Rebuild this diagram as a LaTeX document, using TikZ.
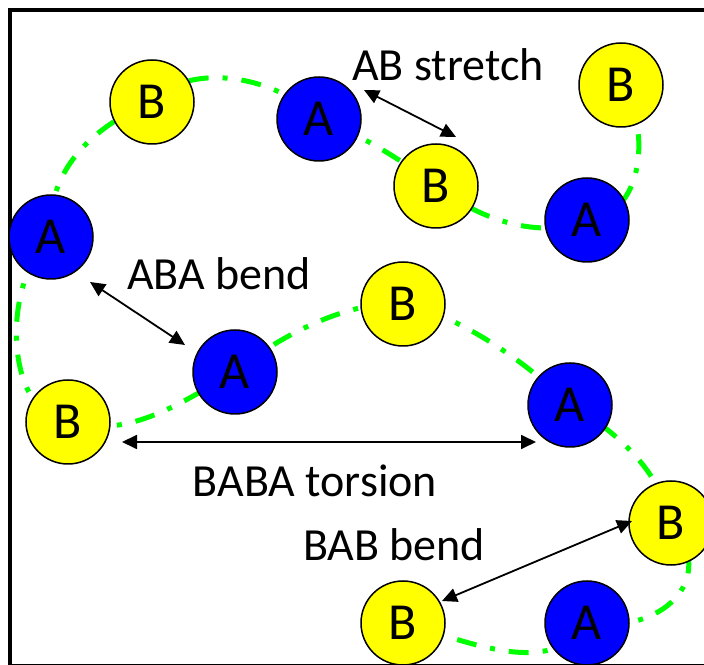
\documentclass[tikz,border=0pt]{standalone}
\usepackage{fontspec}
\setmainfont{Carlito}
\usetikzlibrary{arrows.meta,backgrounds}
\definecolor{blueA}{HTML}{0000FF}
\definecolor{yellowB}{HTML}{FFFF00}
\definecolor{greenC}{HTML}{00FF00}
\begin{document}
\begin{tikzpicture}[x=1pt,y=1pt,
  bead/.style={circle, draw=black, line width=1.5pt, minimum size=84pt, inner sep=0pt, font=\fontsize{52}{52}\selectfont},
  abead/.style={bead, fill=blueA},
  bbead/.style={bead, fill=yellowB},
  chain/.style={draw=greenC, line width=5pt, dash pattern=on 20pt off 14pt on 5pt off 14pt},
  lbl/.style={font=\fontsize{46}{46}\selectfont, anchor=base, inner sep=0pt},
  dimarrow/.style={line width=1.8pt, {Triangle[length=15pt,width=14pt]}-{Triangle[length=15pt,width=14pt]}}
]
\useasboundingbox (0,0) rectangle (704,664);
\clip (0,0) rectangle (704,664);
\draw[line width=4pt] (10,-1.5) rectangle (720,654);

% beads
\node[bbead] (BTR) at (621,579) {B};
\node[abead] (A3) at (587,444) {A};
\node[bbead] (B2) at (436,478) {B};
\node[abead] (A1) at (319,545) {A};
\node[bbead] (B1) at (152,562) {B};
\node[abead] (A2) at (51,427) {A};
\node[bbead] (B4) at (68,242) {B};
\node[abead] (A4) at (235,292) {A};
\node[bbead] (B3) at (403,360) {B};
\node[abead] (A5) at (570,259) {A};
\node[bbead] (B5) at (671,141) {B};
\node[abead] (A6) at (587,41) {A};
\node[bbead] (B6) at (403,41) {B};

% chain
\begin{scope}[on background layer]
\draw[chain] (BTR.center)
  .. controls (648,549) and (650,449) .. (A3.center)
  .. controls (540,424) and (480,444) .. (B2.center)
  .. controls (396,508) and (359,530) .. (A1.center)
  .. controls (274,590) and (187,602) .. (B1.center)
  .. controls (95,539) and (45,494) .. (A2.center)
  .. controls (0,379) and (5,249) .. (B4.center)
  .. controls (130,224) and (185,264) .. (A4.center)
  .. controls (280,329) and (350,364) .. (B3.center)
  .. controls (460,349) and (530,299) .. (A5.center)
  .. controls (615,234) and (660,194) .. (B5.center)
  .. controls (720,84) and (660,29) .. (A6.center)
  .. controls (550,-16) and (465,24) .. (B6.center);
\end{scope}

% arrow end points
\coordinate (ab1) at (364,574);
\coordinate (ab2) at (456,527);
\coordinate (aba1) at (90,382);
\coordinate (aba2) at (185,319);
\coordinate (baba1) at (122,222);
\coordinate (baba2) at (536,222);
\coordinate (bab1) at (632,143);
\coordinate (bab2) at (442,63);

\draw[dimarrow] (ab1) -- (ab2);
\draw[dimarrow] (aba1) -- (aba2);
\draw[dimarrow] (baba1) -- (baba2);
\draw[dimarrow] (bab1) -- (bab2);

% labels
\node[lbl] (lab) at (448,583) {AB stretch};
\node[lbl] (laba) at (219,374) {ABA bend};
\node[lbl] (lbaba) at (315,167) {BABA torsion};
\node[lbl] (lbab) at (394,103) {BAB bend};
\end{tikzpicture}
\end{document}
